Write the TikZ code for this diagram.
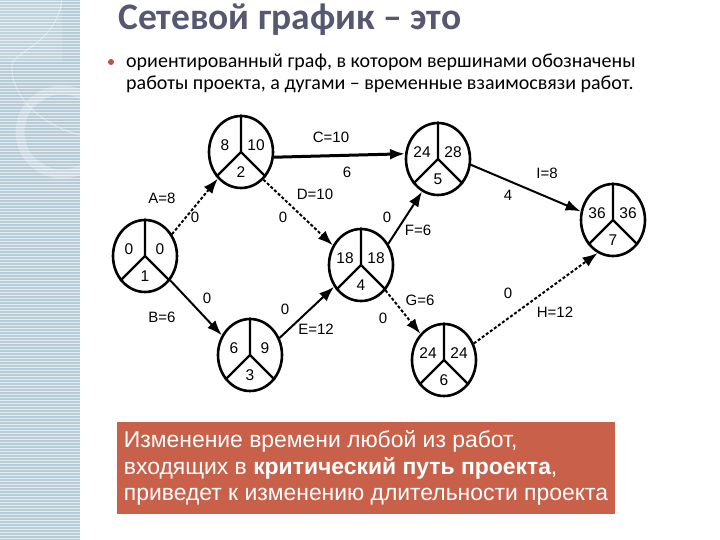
\documentclass[tikz,border=0pt]{standalone}
\usepackage{fontspec}
\setmainfont{Liberation Sans}
\newfontfamily\slidefont{Carlito}
\usepackage{tikz}
\usetikzlibrary{arrows.meta,shapes.geometric}
\definecolor{titlegray}{RGB}{85,88,112}
\definecolor{noteorange}{RGB}{200,96,74}
\definecolor{stripblue}{RGB}{184,204,216}
\definecolor{bulletred}{RGB}{192,80,77}
\tikzstyle{event} = [ellipse, minimum width=64pt, minimum height=72pt, inner sep=0pt, draw=black, line width=2.6pt]
\tikzstyle{divider} = [line width=2.2pt]
\tikzstyle{num} = [font=\fontsize{15.5}{15.5}\selectfont, inner sep=0pt]
\tikzstyle{lbl} = [font=\fontsize{15}{15}\selectfont, inner sep=1pt]
\tikzstyle{arrow} = [line width=2pt,-{Latex[length=15pt,width=11pt]}]
\tikzstyle{dotarrow} = [arrow, dash pattern=on 3pt off 2pt]
\tikzstyle{notebox} = [rectangle, fill=noteorange, text=white, minimum width=498pt, minimum height=92pt, align=left, inner sep=0pt, font=\fontsize{22.9}{26.5}\selectfont]
% event: name, position, early, late, number
\newcommand{\evt}[5]{%
  \node (#1) [event] at (#2) {};
  \draw [divider] (#1.north) -- (#1.center) -- (#1.225) (#1.center) -- (#1.315);
  \node (#1e) [num] at ([shift={(-16,-7)}]#1.center) {#3};
  \node (#1l) [num] at ([shift={(15,-7)}]#1.center) {#4};
  \node (#1n) [num] at ([shift={(0,20)}]#1.center) {#5};
}
\begin{document}
\begin{tikzpicture}[x=1pt,y=-1pt]
\useasboundingbox (0,0) rectangle (720,540);
\fill [white] (0,0) rectangle (720,540);

% side strip
\fill [stripblue] (0,0) rectangle (80,540);
\foreach \y in {1,4,...,540} \draw [white!60!stripblue, line width=0.8pt] (0,\y) -- (80,\y);
\begin{scope}
\clip (0,0) rectangle (80,540);
\fill [white, opacity=0.12] (0,0) rectangle (62,62);
\draw [white, opacity=0.25, line width=9pt] (62,132) circle (42);
\draw [white, opacity=0.4, line width=1pt] (62,0) .. controls (55,45) and (15,50) .. (12,65) .. controls (10,95) and (40,125) .. (80,135);
\end{scope}

% title and definition
\node (title) [anchor=base west, text=titlegray, font=\slidefont\bfseries\fontsize{37.5}{37.5}\selectfont, inner sep=0pt] at (118,30) {Сетевой график – это};
\node (dot) [circle, fill=bulletred, inner sep=0pt, minimum size=6pt] at (111,62) {};
\node (def) [anchor=base west, align=left, font=\slidefont\fontsize{20}{22}\selectfont, inner sep=0pt] at (126,90) {ориентированный граф, в котором вершинами обозначены\\работы проекта, а дугами – временные взаимосвязи работ.};

% network
\evt{n1}{145,256}{0}{0}{1}
\evt{n2}{241,152}{8}{10}{2}
\evt{n3}{250,355}{6}{9}{3}
\evt{n4}{361,265}{18}{18}{4}
\evt{n5}{438,159}{24}{28}{5}
\evt{n6}{444,360}{24}{24}{6}
\evt{n7}{613,220}{36}{36}{7}

\draw [dotarrow] (n1.39) -- (n2.229);
\draw [arrow] (n1.316) -- (n3.145);
\draw [arrow, line width=3pt] (n2.351) -- (n5.171);
\draw [dotarrow] (n2.309) -- (n4.145);
\draw [arrow] (n3.30) -- (n4.219);
\draw [arrow] (n4.38) -- (n5.244);
\draw [dotarrow] (n4.314) -- (n6.132);
\draw [arrow] (n5.350) -- (n7.165);
\draw [dotarrow] (n6.29) -- (n7.245);

\node (lA) [lbl] at (162,198) {A=8};
\node (sA) [lbl] at (195,217) {0};
\node (lB) [lbl] at (162,317) {B=6};
\node (sB) [lbl] at (207,298) {0};
\node (lC) [lbl] at (331,137) {C=10};
\node (sC) [lbl] at (347,172) {6};
\node (lD) [lbl] at (315,194) {D=10};
\node (sD) [lbl] at (283,217) {0};
\node (lE) [lbl] at (316,329) {E=12};
\node (sE) [lbl] at (285,309) {0};
\node (lF) [lbl] at (418,230) {F=6};
\node (sF) [lbl] at (387,217) {0};
\node (lG) [lbl] at (420,300) {G=6};
\node (sG) [lbl] at (383,318) {0};
\node (lH) [lbl] at (555,312) {H=12};
\node (sH) [lbl] at (508,293) {0};
\node (lI) [lbl] at (547,173) {I=8};
\node (sI) [lbl] at (508,195) {4};

% note
\node (note) [notebox] at (366,468) {Изменение времени любой из работ,\\входящих в \textbf{критический путь проекта},\\приведет к изменению длительности проекта};
\end{tikzpicture}
\end{document}
